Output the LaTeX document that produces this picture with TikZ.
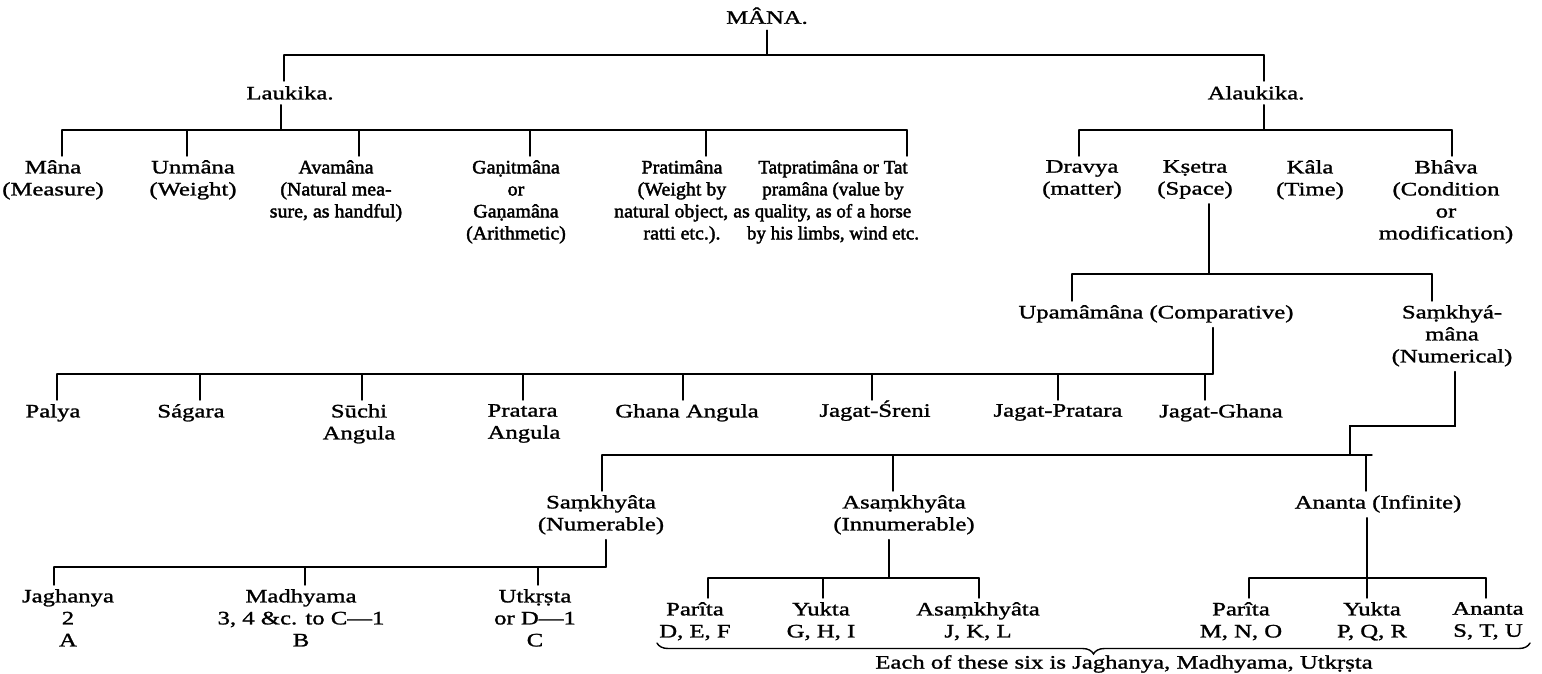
\documentclass[tikz,border=0pt]{standalone}
\usepackage{fontspec}
\setmainfont{Liberation Serif}
\newfontfamily\wideserif{Liberation Serif}[FakeStretch=1.3]
\newfontfamily\blockserif{Liberation Serif}[FakeStretch=1.05]
\newcommand{\heavyon}{\special{pdf:literal direct 2 Tr 0.25 w}}
\newcommand{\heavieron}{\special{pdf:literal direct 2 Tr 0.4 w}}
\newcommand{\heavyoff}{\special{pdf:literal direct 0 Tr}}
\usetikzlibrary{positioning,decorations.pathreplacing}
\tikzstyle{term}=[inner sep=0pt,align=center,anchor=north,font=\wideserif\fontsize{19}{22}\selectfont\heavyon,execute at end node=\heavyoff]
\tikzstyle{block}=[term,font=\blockserif\fontsize{19}{22}\selectfont\heavieron]
\tikzstyle{narrow}=[term,font=\fontsize{19}{22}\selectfont\heavieron]
\tikzstyle{link}=[line width=1.4pt,line cap=round]

\begin{document}
\begin{tikzpicture}[x=1pt,y=-1pt]
            \useasboundingbox (0,0) rectangle (1542,674);
            % root
            \node[term] (mana) at (767,11) {M\smash{Â}NA.};
            \coordinate (b0l) at (284,55);
            \coordinate (b0r) at (1264,55);
            \draw[link] ([yshift=-6pt]mana.south) -- (mana.south |- b0l);
            \draw[link] (b0l) -- (b0r);
            \node[term] (lauk) at (290,86) {Laukika.};
            \node[term] (alauk) at (1256,86) {Alaukika.};
            \draw[link] (b0l) -- ([yshift=5pt]b0l |- lauk.north);
            \draw[link] (b0r) -- ([yshift=5pt]b0r |- alauk.north);
            % laukika
            \coordinate (b1l) at (62,130);
            \coordinate (b1m) at (281,130);
            \coordinate (b1r) at (907,130);
            \draw[link] ([yshift=-5pt]b1m |- lauk.south) -- (b1m);
            \draw[link] (b1l) -- (b1r);
            \node[term] (mana2) at (53,160) {Mâna\\(Measure)};
            \node[term] (unmana) at (193,160) {Unmâna\\(Weight)};
            \node[block] (avam) at (336,160) {Avamâna\\(Natural mea-\\sure, as handful)};
            \node[block] (ganit) at (516,160) {Gaṇitmâna\\or\\Gaṇamâna\\(Arithmetic)};
            \node[block] (prati) at (682,160) {Pratimâna\\(Weight by\\natural object, as\\ratti etc.).};
            \node[narrow] (tatp) at (833,160) {Tatpratimâna or Tat\\pramâna (value by\\quality, as of a horse\\by his limbs, wind etc.};
            \coordinate (t11) at (187,130);
            \coordinate (t12) at (359,130);
            \coordinate (t13) at (530,130);
            \coordinate (t14) at (706,130);
            \draw[link] (b1l) -- ([yshift=4pt]b1l |- mana2.north);
            \draw[link] (t11) -- ([yshift=4pt]t11 |- unmana.north);
            \draw[link] (t12) -- ([yshift=4pt]t12 |- avam.north);
            \draw[link] (t13) -- ([yshift=4pt]t13 |- ganit.north);
            \draw[link] (t14) -- ([yshift=4pt]t14 |- prati.north);
            \draw[link] (b1r) -- ([yshift=4pt]b1r |- tatp.north);
            % alaukika
            \coordinate (b2l) at (1079,130);
            \coordinate (b2r) at (1452,130);
            \draw[link] ([yshift=-5pt]b0r |- alauk.south) -- (b0r |- b2l);
            \draw[link] (b2l) -- (b2r);
            \node[term] (dravya) at (1082,160) {Dravya\\(matter)};
            \node[term] (ksetra) at (1195,160) {Kṣetra\\(Space)};
            \node[term] (kala) at (1310,160) {Kâla\\(Time)};
            \node[term] (bhava) at (1446,160) {Bhâva\\(Condition\\or\\modification)};
            \draw[link] (b2l) -- ([yshift=4pt]b2l |- dravya.north);
            \draw[link] (b2r) -- ([yshift=4pt]b2r |- bhava.north);
            % ksetra
            \coordinate (b3l) at (1072,274);
            \coordinate (b3m) at (1209,274);
            \coordinate (b3r) at (1432,274);
            \draw[link] ([yshift=-5pt]b3m |- ksetra.south) -- (b3m);
            \draw[link] (b3l) -- (b3r);
            \node[term] (upama) at (1156,305) {Upamâmâna (Comparative)};
            \node[term] (samkm) at (1452,305) {Saṃkhyá-\\mâna\\(Numerical)};
            \draw[link] (b3l) -- ([yshift=4pt]b3l |- upama.north);
            \draw[link] (b3r) -- ([yshift=4pt]b3r |- samkm.north);
            % upamamana
            \coordinate (b4l) at (57,374);
            \coordinate (b4r) at (1213,374);
            \draw[link] ([yshift=-5pt]b4r |- upama.south) -- (b4r);
            \draw[link] (b4l) -- (b4r);
            \node[term] (palya) at (53,404) {Palya};
            \node[term] (sagara) at (191,404) {Ságara};
            \node[term] (suchi) at (359,404) {Sūchi\\Angula};
            \node[term,align=left] (pratara) at (524,404) {Pratara\\Angula};
            \node[term] (ghana) at (687,404) {Ghana Angula};
            \node[term] (jsreni) at (875,404) {Jagat-\smash{Ś}reni};
            \node[term] (jprat) at (1058,404) {Jagat-Pratara};
            \node[term] (jghana) at (1221,404) {Jagat-Ghana};
            \coordinate (t41) at (200,374);
            \coordinate (t42) at (362,374);
            \coordinate (t43) at (523,374);
            \coordinate (t44) at (683,374);
            \coordinate (t45) at (872,374);
            \coordinate (t46) at (1058,374);
            \coordinate (t47) at (1205,374);
            \draw[link] (b4l) -- ([yshift=4pt]b4l |- palya.north);
            \draw[link] (t41) -- ([yshift=4pt]t41 |- sagara.north);
            \draw[link] (t42) -- ([yshift=4pt]t42 |- suchi.north);
            \draw[link] (t43) -- ([yshift=4pt]t43 |- pratara.north);
            \draw[link] (t44) -- ([yshift=4pt]t44 |- ghana.north);
            \draw[link] (t45) -- ([yshift=4pt]t45 |- jsreni.north);
            \draw[link] (t46) -- ([yshift=4pt]t46 |- jprat.north);
            \draw[link] (t47) -- ([yshift=4pt]t47 |- jghana.north);
            % samkhyamana
            \coordinate (s1) at (1455,426);
            \coordinate (s2) at (1350,426);
            \coordinate (b5l) at (602,455);
            \coordinate (b5r) at (1372,455);
            \draw[link] ([yshift=-5pt]s1 |- samkm.south) -- (s1) -- (s2) -- (s2 |- b5l);
            \draw[link] (b5l) -- (b5r);
            \node[term] (samkh) at (601,495) {Saṃkhyâta\\(Numerable)};
            \node[term] (asamkh) at (904,495) {Asaṃkhyâta\\(Innumerable)};
            \node[term] (ananta) at (1378,495) {Ananta (Infinite)};
            \coordinate (t51) at (893,455);
            \coordinate (t52) at (1366,455);
            \draw[link] (b5l) -- ([yshift=4pt]b5l |- samkh.north);
            \draw[link] (t51) -- ([yshift=4pt]t51 |- asamkh.north);
            \draw[link] (t52) -- ([yshift=4pt]t52 |- ananta.north);
            % samkhyata
            \coordinate (b6l) at (54,567);
            \coordinate (b6r) at (606,567);
            \draw[link] ([yshift=-5pt]b6r |- samkh.south) -- (b6r);
            \draw[link] (b6l) -- (b6r);
            \node[term] (jagh) at (68,589) {Jaghanya\\2\\A};
            \node[term] (madh) at (301,589) {Madhyama\\3, 4 \&c. to C—1\\B};
            \node[term] (utkr) at (535,589) {Utkṛṣta\\or D—1\\C};
            \coordinate (t61) at (305,567);
            \coordinate (t62) at (538,567);
            \draw[link] (b6l) -- ([yshift=4pt]b6l |- jagh.north);
            \draw[link] (t61) -- ([yshift=4pt]t61 |- madh.north);
            \draw[link] (t62) -- ([yshift=4pt]t62 |- utkr.north);
            % asamkhyata
            \coordinate (b7l) at (708,578);
            \coordinate (b7m) at (889,578);
            \coordinate (b7r) at (979,578);
            \draw[link] ([yshift=-5pt]b7m |- asamkh.south) -- (b7m);
            \draw[link] (b7l) -- (b7r);
            \node[term] (par1) at (695,602) {Parîta\\D, E, F};
            \node[term] (yuk1) at (821,602) {Yukta\\G, H, I};
            \node[term] (asam2) at (978,602) {Asaṃkhyâta\\J, K, L};
            \coordinate (t71) at (823,578);
            \draw[link] (b7l) -- ([yshift=4pt]b7l |- par1.north);
            \draw[link] (t71) -- ([yshift=4pt]t71 |- yuk1.north);
            \draw[link] (b7r) -- ([yshift=4pt]b7r |- asam2.north);
            % ananta
            \coordinate (b8l) at (1249,578);
            \coordinate (b8m) at (1367,578);
            \coordinate (b8r) at (1486,578);
            \draw[link] ([yshift=-5pt]b8m |- ananta.south) -- (b8m);
            \draw[link] (b8l) -- (b8r);
            \node[term] (par2) at (1241,602) {Parîta\\M, N, O};
            \node[term] (yuk2) at (1372,602) {Yukta\\P, Q, R};
            \node[term] (anan2) at (1488,602) {Ananta\\S, T, U};
            \draw[link] (b8l) -- ([yshift=4pt]b8l |- par2.north);
            \draw[link] (b8m) -- ([yshift=4pt]b8m |- yuk2.north);
            \draw[link] (b8r) -- ([yshift=4pt]b8r |- anan2.north);
            % brace
            \coordinate (brl) at (657,643);
            \coordinate (brr) at (1530,643);
            \draw[link,decorate,decoration={brace,mirror,amplitude=11pt}] (brl) -- (brr);
            \node[term] (each) at (1124,655) {Each of these six is Jaghanya, Madhyama, Utkṛṣta};
        \end{tikzpicture}
\end{document}
